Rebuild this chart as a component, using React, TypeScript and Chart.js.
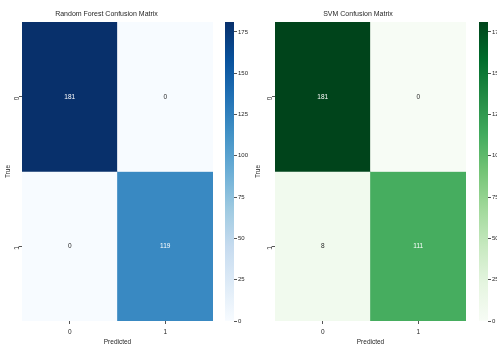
import React, { useEffect, useRef } from 'react';
import { Chart, registerables } from 'chart.js';

Chart.register(...registerables);

// ---------- data ----------
const classLabels = ['0', '1'];
const rfMatrix = [
  [181, 0],
  [0, 119],
];
const svmMatrix = [
  [181, 0],
  [8, 111],
];
const colorbarTicks = [0, 25, 50, 75, 100, 125, 150, 175];
const rfTitle = 'Random Forest Confusion Matrix';
const svmTitle = 'SVM Confusion Matrix';
const xTitle = 'Predicted';
const yTitle = 'True';

// ---------- colormaps ----------
const BLUES = ['#f7fbff', '#deebf7', '#c6dbef', '#9ecae1', '#6baed6', '#4292c6', '#2171b5', '#08519c', '#08306b'];
const GREENS = ['#f7fcf5', '#e5f5e0', '#c7e9c0', '#a1d99b', '#74c476', '#41ab5d', '#238b45', '#006d2c', '#00441b'];

const FONT = '"Liberation Sans", Arial, sans-serif';
const TEXT = '#262626';
const TICKC = '#555555';

function hexToRgb(h: string) {
  const n = parseInt(h.slice(1), 16);
  return [(n >> 16) & 255, (n >> 8) & 255, n & 255];
}
function cmapColor(stops: string[], t: number) {
  const tt = Math.max(0, Math.min(1, t)) * (stops.length - 1);
  const i = Math.min(stops.length - 2, Math.floor(tt));
  const f = tt - i;
  const a = hexToRgb(stops[i]);
  const b = hexToRgb(stops[i + 1]);
  const c = a.map((v, k) => Math.round(v + (b[k] - v) * f));
  return `rgb(${c[0]},${c[1]},${c[2]})`;
}

type HeatProps = {
  left: number; width: number; yAxisWidth: number; padRight: number;
  matrix: number[][]; stops: string[]; title: string;
};

function Heatmap({ left, width, yAxisWidth, padRight, matrix, stops, title }: HeatProps) {
  const ref = useRef<HTMLCanvasElement>(null);
  useEffect(() => {
    if (!ref.current) return;
    const vmax = Math.max(...matrix.flat());
    const datasets = matrix.map((row, i) => ({
      data: row.map(() => [i, i + 1]),
      backgroundColor: row.map((v) => cmapColor(stops, v / vmax)),
      borderWidth: 0,
      barPercentage: 1,
      categoryPercentage: 1,
      grouped: false,
    }));
    const annot = {
      id: 'annot',
      afterDatasetsDraw(chart: any) {
        const ctx = chart.ctx;
        ctx.save();
        ctx.font = `6.5px ${FONT}`;
        ctx.textAlign = 'center';
        ctx.textBaseline = 'middle';
        matrix.forEach((row, i) => {
          const meta = chart.getDatasetMeta(i);
          row.forEach((v, j) => {
            const el = meta.data[j] as any;
            const cy = (el.y + el.base) / 2;
            ctx.fillStyle = v / vmax > 0.4 ? '#ffffff' : TEXT;
            ctx.fillText(String(v), el.x, cy);
          });
        });
        ctx.restore();
      },
    };
    const chart = new Chart(ref.current, {
      type: 'bar',
      data: { labels: classLabels, datasets: datasets as any },
      plugins: [annot],
      options: {
        animation: false,
        responsive: false,
        devicePixelRatio: 1,
        layout: { padding: { left: 0, right: padRight, top: 0, bottom: 0 } },
        plugins: {
          legend: { display: false },
          tooltip: { enabled: false },
          title: {
            display: true,
            text: title,
            color: TEXT,
            font: { family: FONT, size: 7, weight: 'normal' },
            padding: { top: 10, bottom: 3.6 },
          },
        },
        scales: {
          x: {
            type: 'category',
            offset: true,
            grid: { offset: false, drawOnChartArea: false, drawTicks: true, tickLength: 3, color: TICKC },
            border: { display: false },
            ticks: { color: TEXT, font: { family: FONT, size: 6.5 }, padding: 4, minRotation: 0, maxRotation: 0 },
            title: { display: true, text: xTitle, color: TEXT, font: { family: FONT, size: 6.5 }, padding: { top: 1, bottom: 1 } },
            afterFit: (s: any) => { s.height = 26; },
          },
          y: {
            type: 'linear',
            reverse: true,
            min: 0,
            max: 2,
            afterBuildTicks: (s: any) => { s.ticks = classLabels.map((_, i) => ({ value: i + 0.5 })); },
            ticks: {
              color: TEXT,
              font: { family: FONT, size: 6.5 },
              padding: 2,
              minRotation: 90,
              maxRotation: 90,
              callback: (_v: any, idx: number) => classLabels[idx],
            },
            grid: { drawOnChartArea: false, drawTicks: true, tickLength: 3, color: TICKC },
            border: { display: false },
            title: { display: true, text: yTitle, color: TEXT, font: { family: FONT, size: 6.5 }, padding: { top: 4, bottom: 0 } },
            afterFit: (s: any) => { s.width = yAxisWidth; },
          },
        },
      } as any,
    });
    return () => chart.destroy();
  }, []);
  return (
    <canvas
      ref={ref}
      width={width}
      height={347}
      style={{ position: 'absolute', left, top: 0, width, height: 347 }}
    />
  );
}

type CbProps = { left: number; width: number; padLeft: number; axisWidth: number; matrix: number[][]; stops: string[] };

function Colorbar({ left, width, padLeft, axisWidth, matrix, stops }: CbProps) {
  const ref = useRef<HTMLCanvasElement>(null);
  useEffect(() => {
    if (!ref.current) return;
    const vmax = Math.max(...matrix.flat());
    const chart = new Chart(ref.current, {
      type: 'bar',
      data: {
        labels: [''],
        datasets: [
          {
            data: [[0, vmax]] as any,
            backgroundColor: (c: any) => {
              const ch = c.chart;
              if (!ch.chartArea) return stops[0];
              const ys = ch.scales.y;
              const g = ch.ctx.createLinearGradient(0, ys.getPixelForValue(0), 0, ys.getPixelForValue(vmax));
              stops.forEach((s, k) => g.addColorStop(k / (stops.length - 1), s));
              return g;
            },
            borderWidth: 0,
            barPercentage: 1,
            categoryPercentage: 1,
          },
        ],
      },
      options: {
        animation: false,
        responsive: false,
        devicePixelRatio: 1,
        layout: { padding: { left: padLeft, right: 0, top: 22, bottom: 26 } },
        plugins: { legend: { display: false }, tooltip: { enabled: false }, title: { display: false } },
        scales: {
          x: { display: false },
          y: {
            position: 'right',
            min: 0,
            max: vmax,
            afterBuildTicks: (s: any) => { s.ticks = colorbarTicks.map((v) => ({ value: v })); },
            ticks: { color: TEXT, font: { family: FONT, size: 6 }, padding: 1 },
            grid: { drawOnChartArea: false, drawTicks: true, tickLength: 3, color: TICKC },
            border: { display: false },
            afterFit: (s: any) => { s.width = axisWidth; },
          },
        },
      } as any,
    });
    return () => chart.destroy();
  }, []);
  return (
    <canvas
      ref={ref}
      width={width}
      height={347}
      style={{ position: 'absolute', left, top: 0, width, height: 347 }}
    />
  );
}

export default function App() {
  return (
    <div style={{ position: 'fixed', left: 0, top: 0, width: 497, height: 347, overflow: 'hidden', background: '#ffffff' }}>
      <Heatmap left={0} width={216} yAxisWidth={22} padRight={3} matrix={rfMatrix} stops={BLUES} title={rfTitle} />
      <Colorbar left={216} width={34} padLeft={9} axisWidth={16} matrix={rfMatrix} stops={BLUES} />
      <Heatmap left={250} width={219} yAxisWidth={25} padRight={3} matrix={svmMatrix} stops={GREENS} title={svmTitle} />
      <Colorbar left={469} width={44} padLeft={10} axisWidth={25} matrix={svmMatrix} stops={GREENS} />
    </div>
  );
}
